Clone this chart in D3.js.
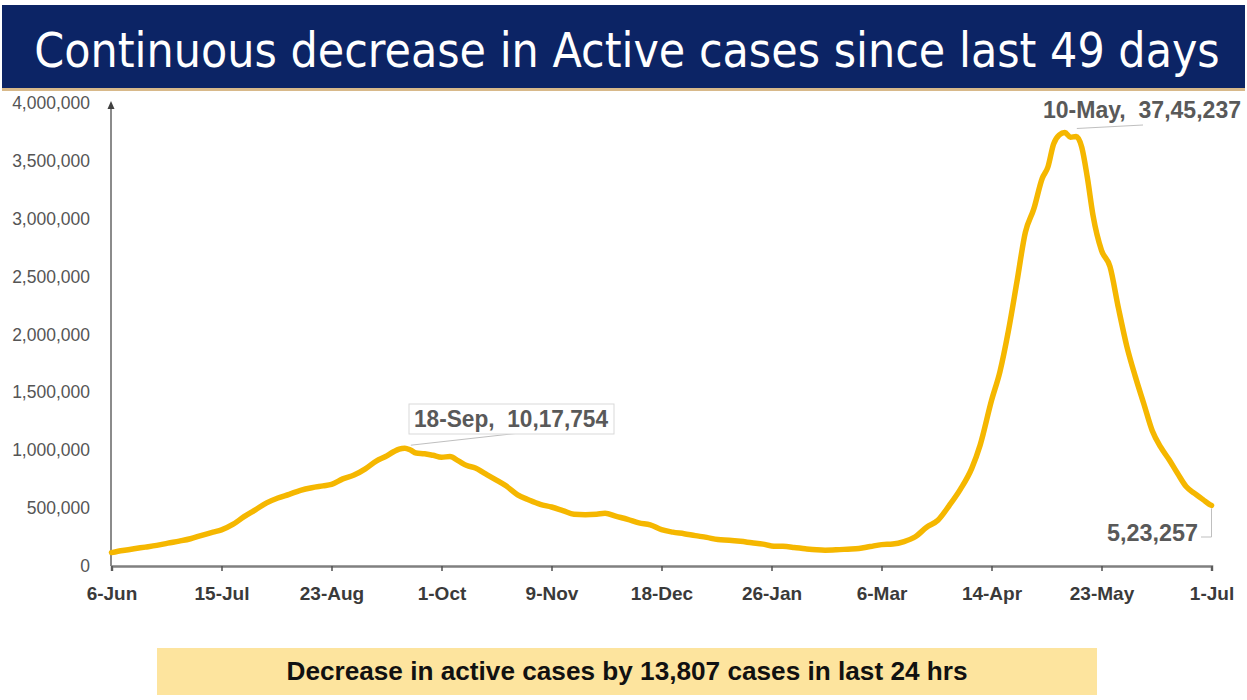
<!DOCTYPE html>
<html>
<head>
<meta charset="utf-8">
<script src="https://cdn.jsdelivr.net/npm/d3@7"></script>
<style>
  html, body { margin: 0; padding: 0; background: #ffffff; }
  svg { display: block; }
  .pre { white-space: pre; }
</style>
</head>
<body>
<svg id="chart" width="1247" height="700"></svg>
<script>
const titleText = "Continuous decrease in Active cases since last 49 days";
const footerText = "Decrease in active cases by 13,807 cases in last 24 hrs";

const dates = [
  "2020-06-06","2020-06-10","2020-06-14","2020-06-18","2020-06-22","2020-06-26","2020-06-30",
  "2020-07-04","2020-07-08","2020-07-12","2020-07-15","2020-07-19","2020-07-23","2020-07-27","2020-07-31",
  "2020-08-04","2020-08-08","2020-08-12","2020-08-16","2020-08-20","2020-08-23","2020-08-27","2020-08-31",
  "2020-09-04","2020-09-08","2020-09-11","2020-09-14","2020-09-16","2020-09-18","2020-09-20","2020-09-22",
  "2020-09-25","2020-09-28","2020-10-01","2020-10-04","2020-10-07","2020-10-10","2020-10-13","2020-10-16",
  "2020-10-20","2020-10-24","2020-10-28","2020-11-01","2020-11-05","2020-11-09","2020-11-13","2020-11-17",
  "2020-11-21","2020-11-25","2020-11-28","2020-12-02","2020-12-06","2020-12-10","2020-12-14","2020-12-18",
  "2020-12-22","2020-12-26","2020-12-30","2021-01-03","2021-01-07","2021-01-11","2021-01-15","2021-01-19",
  "2021-01-23","2021-01-26","2021-01-30","2021-02-03","2021-02-07","2021-02-11","2021-02-14","2021-02-18",
  "2021-02-22","2021-02-26","2021-03-02","2021-03-06","2021-03-10","2021-03-14","2021-03-18","2021-03-22",
  "2021-03-26","2021-03-30","2021-04-03","2021-04-07","2021-04-10","2021-04-14","2021-04-17","2021-04-20",
  "2021-04-23","2021-04-26","2021-04-29","2021-05-02","2021-05-04","2021-05-06","2021-05-08","2021-05-10",
  "2021-05-12","2021-05-14","2021-05-16","2021-05-18","2021-05-20","2021-05-23","2021-05-26","2021-05-29",
  "2021-06-01","2021-06-04","2021-06-07","2021-06-10","2021-06-13","2021-06-16","2021-06-19","2021-06-22",
  "2021-06-25","2021-06-28","2021-06-30","2021-07-01"
];
const activeCases = [
  115942,133632,149348,163248,178014,197387,215125,
  235433,264944,292258,311565,358692,426167,485114,545318,
  587825,619088,653622,676514,692028,704348,752424,785996,
  839627,908999,943480,986598,1009976,1017754,1001540,975861,
  970116,956402,940441,944996,907883,867496,846395,804528,
  748538,690238,615149,570458,532536,509673,479216,447567,
  443794,447803,454940,428644,403248,372293,355709,313831,
  292518,278690,262272,247220,228083,222526,213027,200528,
  188688,173740,169824,160057,148609,139542,136549,139637,
  145634,151708,168358,184598,189226,210544,252364,334646,
  395192,521808,664104,843473,1046631,1429564,1679740,2031977,
  2452907,2882204,3084814,3349644,3447133,3645164,3723446,3745237,
  3704099,3710525,3618458,3353765,3027925,2727164,2586782,2228724,
  1895520,1635993,1401609,1167952,1026159,917247,798656,686418,
  627057,573413,537064,523257
];

const xTickLabels = ["6-Jun","15-Jul","23-Aug","1-Oct","9-Nov","18-Dec","26-Jan","6-Mar","14-Apr","23-May","1-Jul"];
const xTickDates = ["2020-06-06","2020-07-15","2020-08-23","2020-10-01","2020-11-09","2020-12-18","2021-01-26","2021-03-06","2021-04-14","2021-05-23","2021-07-01"];
const yTickValues = [0,500000,1000000,1500000,2000000,2500000,3000000,3500000,4000000];

const annotationDates = ["2020-09-18","2021-05-10","2021-07-01"];
const annotationTexts = ["18-Sep,  10,17,754","10-May,  37,45,237","5,23,257"];

const parse = d3.timeParse("%Y-%m-%d");
const data = dates.map((d, i) => ({ date: parse(d), value: activeCases[i] }));

const svg = d3.select("#chart");

// Title bar
svg.append("rect").attr("x", 2).attr("y", 5).attr("width", 1243).attr("height", 83).attr("fill", "#0c2465");
svg.append("rect").attr("x", 2).attr("y", 88).attr("width", 1243).attr("height", 3).attr("fill", "#d8b98a");
const title = svg.append("text")
  .attr("x", 627).attr("y", 67)
  .attr("text-anchor", "middle")
  .attr("fill", "#ffffff")
  .attr("font-family", "'Liberation Sans Narrow', 'DejaVu Sans Condensed', 'Liberation Sans', sans-serif")
  .attr("font-size", 52)
  .text(titleText);
// fit the natural width of the title to the reference span
const natural = title.node().getComputedTextLength();
const fitSize = Math.min(54, 52 * 1186 / natural);
title.attr("font-size", fitSize);

// Scales
const x = d3.scaleTime()
  .domain([parse("2020-06-06"), parse("2021-07-01")])
  .range([111.5, 1211.5]);
const y = d3.scaleLinear().domain([0, 4000000]).range([566, 103]);

// Y axis
const yAxis = svg.append("g").attr("transform", "translate(111,0)")
  .call(d3.axisLeft(y).tickValues(yTickValues).tickSize(0).tickPadding(21).tickFormat(d3.format(",")));
yAxis.select(".domain").remove();
yAxis.selectAll("text")
  .attr("fill", "#555555")
  .attr("font-family", "'Liberation Sans', Arial, sans-serif")
  .attr("font-size", 17.5);
svg.append("line").attr("x1", 111).attr("x2", 111).attr("y1", y(0)).attr("y2", y(4000000) + 4)
  .attr("stroke", "#6e6e6e").attr("stroke-width", 1.6);
svg.append("path")
  .attr("d", d3.line()([[111, y(4000000) - 2], [107.5, y(4000000) + 6], [114.5, y(4000000) + 6]]) + "Z")
  .attr("fill", "#404040");

// X axis
const xAxis = svg.append("g").attr("transform", `translate(0,${y(0)})`)
  .call(d3.axisBottom(x).tickValues(xTickDates.map(parse)).tickSize(5).tickPadding(0)
    .tickFormat((d, i) => xTickLabels[i]));
xAxis.select(".domain").attr("stroke", "#808080").attr("stroke-width", 2.5);
xAxis.selectAll(".tick line").attr("stroke", "#505050").attr("stroke-width", 1.5);
xAxis.selectAll("text")
  .attr("y", 21)
  .attr("fill", "#3a3a3a")
  .attr("font-weight", "bold")
  .attr("font-family", "'Liberation Sans Narrow', 'Liberation Sans', Arial, sans-serif")
  .attr("font-size", 19);

// Line
svg.append("path")
  .datum(data)
  .attr("fill", "none")
  .attr("stroke", "#f5b700")
  .attr("stroke-width", 5.5)
  .attr("stroke-linejoin", "round")
  .attr("stroke-linecap", "round")
  .attr("d", d3.line().x(d => x(d.date)).y(d => y(d.value)).curve(d3.curveMonotoneX));

// Annotations
const annFont = "'Liberation Sans Narrow', 'Liberation Sans', Arial, sans-serif";
const a0 = { x: x(parse(annotationDates[0])), y: y(1017754) };
svg.append("line").attr("x1", a0.x + 6).attr("y1", a0.y - 3).attr("x2", a0.x + 115).attr("y2", 433)
  .attr("stroke", "#bfbfbf").attr("stroke-width", 1);
svg.append("rect").attr("x", 409).attr("y", 404).attr("width", 205).attr("height", 30)
  .attr("fill", "#ffffff").attr("stroke", "#d9d9d9").attr("stroke-width", 1);
svg.append("text").attr("class", "pre").attr("x", 511).attr("y", 427).attr("text-anchor", "middle")
  .attr("fill", "#595959").attr("font-weight", "bold").attr("font-family", annFont)
  .attr("font-size", 23).attr("textLength", 194).attr("lengthAdjust", "spacingAndGlyphs")
  .text(annotationTexts[0]);

const a1 = { x: x(parse(annotationDates[1])), y: y(3745237) };
svg.append("line").attr("x1", a1.x + 12).attr("y1", a1.y - 4).attr("x2", 1143).attr("y2", 125)
  .attr("stroke", "#bfbfbf").attr("stroke-width", 1);
svg.append("text").attr("class", "pre").attr("x", 1043).attr("y", 118)
  .attr("fill", "#595959").attr("font-weight", "bold").attr("font-family", annFont)
  .attr("font-size", 23).attr("textLength", 198).attr("lengthAdjust", "spacingAndGlyphs")
  .text(annotationTexts[1]);

const a2 = { x: x(parse(annotationDates[2])), y: y(523257) };
svg.append("path")
  .attr("d", d3.line()([[a2.x, a2.y + 3], [a2.x, 537], [1201, 537]]))
  .attr("fill", "none").attr("stroke", "#bfbfbf").attr("stroke-width", 1);
svg.append("text").attr("x", 1198).attr("y", 541).attr("text-anchor", "end")
  .attr("fill", "#595959").attr("font-weight", "bold").attr("font-family", annFont)
  .attr("font-size", 23).attr("textLength", 91).attr("lengthAdjust", "spacingAndGlyphs")
  .text(annotationTexts[2]);

// Footer box
svg.append("rect").attr("x", 157).attr("y", 648).attr("width", 940).attr("height", 47).attr("fill", "#fde49e");
svg.append("text").attr("x", 627).attr("y", 680).attr("text-anchor", "middle")
  .attr("fill", "#111111").attr("font-weight", "bold")
  .attr("font-family", "'Liberation Sans Narrow', 'Liberation Sans', Arial, sans-serif")
  .attr("font-size", 25).attr("textLength", 681).attr("lengthAdjust", "spacingAndGlyphs")
  .text(footerText);
</script>
</body>
</html>
